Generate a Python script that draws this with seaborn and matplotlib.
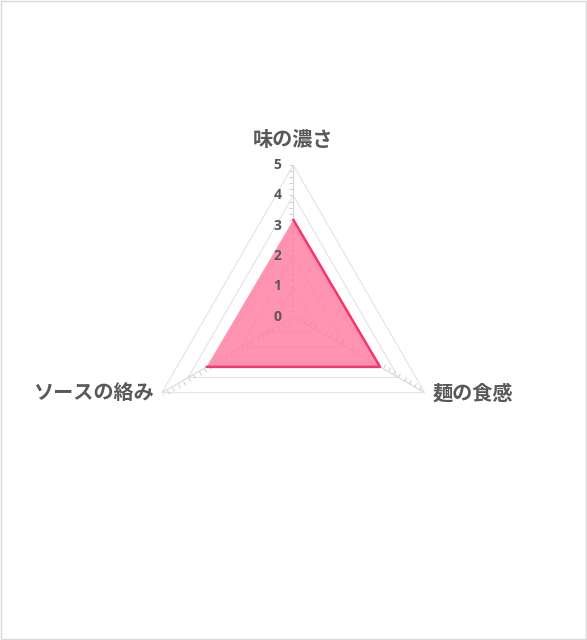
import numpy as np
import matplotlib
matplotlib.use("Agg")
import matplotlib.pyplot as plt
from matplotlib.markers import MarkerStyle
from matplotlib.transforms import Affine2D
import seaborn as sns

# data
categories = ["味の濃さ", "麺の食感", "ソースの絡み"]
scores = [3.2, 3.3, 3.3]
r_ticks = [0, 1, 2, 3, 4, 5]

sns.set_theme(style="white")
plt.rcParams['font.family'] = ['Noto Sans CJK JP', 'DejaVu Sans']

text_color = "#595959"
grid_color = "#e3e3e3"
line_color = "#f5356c"
fill_color = "#ff7a9e"

fig = plt.figure(figsize=(5.87, 6.4), dpi=100)
ax = fig.add_axes([0.2412, 0.268, 0.5169, 0.474], projection="polar")
ax.set_theta_offset(np.pi / 2)
ax.set_theta_direction(-1)
ax.set_ylim(0, 5)
ax.grid(False)
ax.spines["polar"].set_visible(False)
ax.set_xticks([])
ax.set_yticks([])
ax.set_facecolor("none")

n = len(categories)
angles = [i * 2 * np.pi / n for i in range(n)]
closed = angles + angles[:1]

# triangular grid rings
for r in r_ticks[1:]:
    ax.plot(closed, [r] * (n + 1), color=grid_color, lw=0.8, zorder=1)

# spokes with tick marks
minor = [v for v in np.arange(0.2, 5.01, 0.2)]
for i, a in enumerate(angles):
    ax.plot([a, a], [0, 5], color="#d9d9d9", lw=0.8, zorder=1)
    spoke_dir = 90 - np.degrees(a)
    ms = MarkerStyle(0, transform=Affine2D().rotate_deg(spoke_dir - 90))
    ax.plot([a] * len(minor), minor, ls="none", marker=ms, markersize=3,
            markeredgecolor="#cfcfcf", markeredgewidth=0.7, zorder=1)

# series
vals = scores + scores[:1]
ax.fill(closed, vals, color=fill_color, alpha=0.8, zorder=2, lw=0)
sns.lineplot(x=closed, y=vals, ax=ax, sort=False, color=line_color, lw=1.8, zorder=3)

# radial tick labels
for r in r_ticks:
    ax.annotate(str(r), xy=(0, r), xytext=(-12, 0), textcoords="offset pixels",
                ha="right", va="center", fontsize=10, fontweight="bold",
                color=text_color, family=['Open Sans', 'DejaVu Sans'], zorder=4)

# category labels
offsets = [(0, 15, "center", "bottom"), (8, 0, "left", "center"), (-8, 0, "right", "center")]
for lab, a, (dx, dy, ha, va) in zip(categories, angles, offsets):
    ax.annotate(lab, xy=(a, 5), xytext=(dx, dy), textcoords="offset pixels",
                ha=ha, va=va, fontsize=14.5, fontweight="bold", color=text_color,
                annotation_clip=False)

# outer border
fig.patches.append(plt.Rectangle((0.002, 0.002), 0.996, 0.996, transform=fig.transFigure,
                                 fill=False, edgecolor="#d9d9d9", lw=1))

fig.savefig("out.png", dpi=100, facecolor="white")
